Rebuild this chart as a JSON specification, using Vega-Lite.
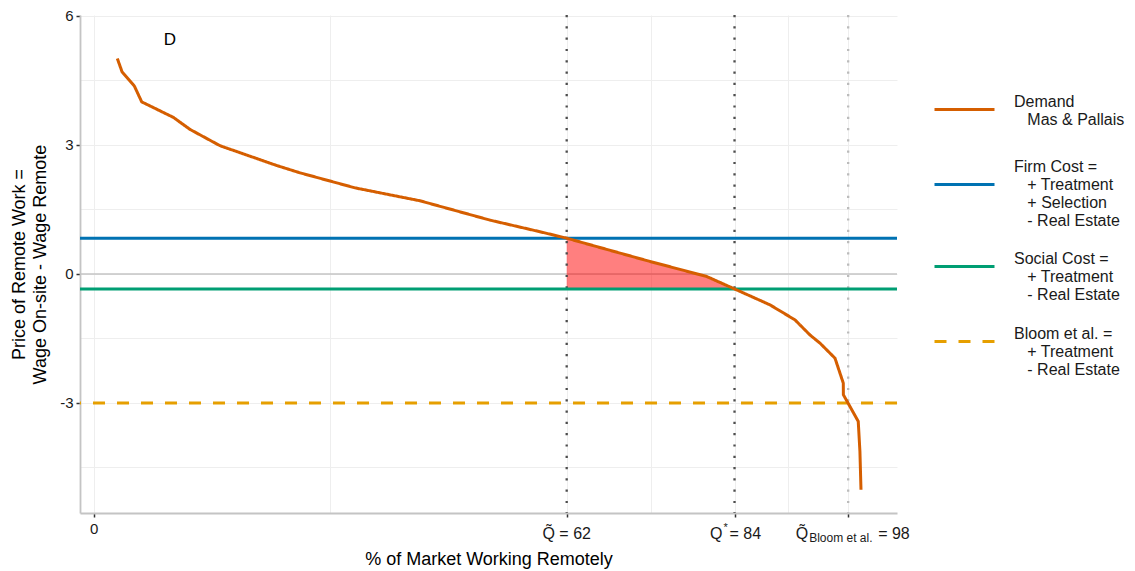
{
  "$schema": "https://vega.github.io/schema/vega-lite/v6.json",
  "width": 817,
  "height": 498,
  "autosize": {"type": "none"},
  "padding": {"left": 80, "top": 15, "right": 238, "bottom": 58},
  "background": "white",
  "config": {
    "font": "Liberation Sans",
    "view": {"stroke": null},
    "axis": {
      "domainColor": "#C4C4C4",
      "domainWidth": 1.8,
      "tickColor": "#333333",
      "tickWidth": 1.5,
      "tickSize": 4,
      "gridColor": "#EEEEEE",
      "gridWidth": 1,
      "labelFont": "Liberation Sans",
      "labelFontSize": 15,
      "labelColor": "#1A1A1A",
      "titleFont": "Liberation Sans",
      "titleFontSize": 18,
      "titleFontWeight": "normal",
      "titleColor": "#000000"
    }
  },
  "datasets": {
    "demand": [
      {"x": 3.09, "y": 5.01, "series": "Demand"},
      {"x": 3.71, "y": 4.70, "series": "Demand"},
      {"x": 5.32, "y": 4.37, "series": "Demand"},
      {"x": 6.29, "y": 4.00, "series": "Demand"},
      {"x": 10.43, "y": 3.64, "series": "Demand"},
      {"x": 12.62, "y": 3.36, "series": "Demand"},
      {"x": 16.56, "y": 2.98, "series": "Demand"},
      {"x": 23.99, "y": 2.52, "series": "Demand"},
      {"x": 27.04, "y": 2.35, "series": "Demand"},
      {"x": 34.26, "y": 2.00, "series": "Demand"},
      {"x": 42.77, "y": 1.70, "series": "Demand"},
      {"x": 51.95, "y": 1.25, "series": "Demand"},
      {"x": 58.5, "y": 0.98, "series": "Demand"},
      {"x": 62, "y": 0.83, "series": "Demand"},
      {"x": 72.9, "y": 0.29, "series": "Demand"},
      {"x": 80.35, "y": -0.06, "series": "Demand"},
      {"x": 84, "y": -0.35, "series": "Demand"},
      {"x": 88.65, "y": -0.72, "series": "Demand"},
      {"x": 91.93, "y": -1.07, "series": "Demand"},
      {"x": 93.89, "y": -1.42, "series": "Demand"},
      {"x": 95.2, "y": -1.61, "series": "Demand"},
      {"x": 97.17, "y": -1.96, "series": "Demand"},
      {"x": 98.26, "y": -2.54, "series": "Demand"},
      {"x": 98.27, "y": -2.81, "series": "Demand"},
      {"x": 100.22, "y": -3.43, "series": "Demand"},
      {"x": 100.44, "y": -4.13, "series": "Demand"},
      {"x": 100.58, "y": -5.02, "series": "Demand"}
    ],
    "area": [
      {"x": 62, "top": 0.83, "bottom": -0.35},
      {"x": 72.9, "top": 0.29, "bottom": -0.35},
      {"x": 80.35, "top": -0.06, "bottom": -0.35},
      {"x": 84, "top": -0.35, "bottom": -0.35}
    ],
    "hlines": [
      {"y": 0.83, "series": "Firm"},
      {"y": -0.35, "series": "Social"},
      {"y": -3.0, "series": "Bloom"}
    ],
    "zero": [{"y": 0}],
    "vlines": [
      {"x": 62, "name": "Q_tilde"},
      {"x": 84, "name": "Q_star"},
      {"x": 98.9, "name": "Q_bloom"}
    ],
    "panel": [{"x": 10, "y": 5.45, "label": "D"}],
    "xlabels": [
      {"x": 62, "piece": "full", "text": "Q\u0303 = 62"},
      {"x": 84, "piece": "q84", "text": "Q"},
      {"x": 84, "piece": "star84", "text": "*"},
      {"x": 84, "piece": "eq84", "text": "= 84"},
      {"x": 98.9, "piece": "q98", "text": "Q\u0303"},
      {"x": 98.9, "piece": "sub98", "text": "Bloom et al."},
      {"x": 98.9, "piece": "eq98", "text": "= 98"}
    ]
  },
  "layer": [
    {
      "data": {"name": "zero"},
      "mark": {"type": "rule", "color": "#C4C4C4", "strokeWidth": 1.5},
      "encoding": {
        "y": {
          "field": "y", "type": "quantitative",
          "scale": {"domain": [-5.56, 6.02], "nice": false, "zero": false},
          "axis": {
            "values": [-4.5, -3, -1.5, 0, 1.5, 3, 4.5, 6],
            "labelExpr": "datum.value % 3 == 0 ? '' + datum.value : ''",
            "tickOpacity": {"condition": {"test": "datum.value % 3 != 0", "value": 0}, "value": 1},
            "labelPadding": 3,
            "titlePadding": 10,
            "titleLineHeight": 21
          },
          "title": ["Price of Remote Work =", "Wage On-site - Wage Remote"]
        }
      }
    },
    {
      "data": {"name": "area"},
      "mark": {"type": "area", "color": "#FF0000", "opacity": 0.5},
      "encoding": {
        "x": {
          "field": "x", "type": "quantitative",
          "scale": {"domain": [-1.8, 105.3], "nice": false, "zero": false},
          "axis": {
            "values": [0, 31, 62, 73, 84, 91, 98.9],
            "labelExpr": "datum.value == 0 ? '0' : ''",
            "tickOpacity": {"condition": {"test": "datum.value == 31 || datum.value == 73 || datum.value == 91", "value": 0}, "value": 1},
            "labelPadding": 4,
            "titlePadding": 14
          },
          "title": "% of Market Working Remotely"
        },
        "y": {"field": "top", "type": "quantitative", "scale": {"domain": [-5.56, 6.02], "nice": false, "zero": false}},
        "y2": {"field": "bottom"}
      }
    },
    {
      "data": {"name": "vlines"},
      "mark": {"type": "rule", "strokeWidth": 2.3, "strokeDash": [2.2, 9.1]},
      "encoding": {
        "x": {"field": "x", "type": "quantitative", "scale": {"domain": [-1.8, 105.3], "nice": false, "zero": false}},
        "color": {"condition": {"test": "datum.x > 95", "value": "#BBBBBB"}, "value": "#4D4D4D"}
      }
    },
    {
      "data": {"name": "hlines"},
      "mark": {"type": "rule", "strokeWidth": 3},
      "encoding": {
        "y": {"field": "y", "type": "quantitative", "scale": {"domain": [-5.56, 6.02], "nice": false, "zero": false}},
        "color": {
          "field": "series", "type": "nominal",
          "scale": {"domain": ["Demand", "Firm", "Social", "Bloom"], "range": ["#D55E00", "#0072B2", "#009E73", "#E69F00"]},
          "legend": {
            "title": null, "orient": "none", "legendX": 853, "legendY": 63,
            "symbolType": "M-1,0H1M0,1.04", "symbolSize": 3600, "symbolStrokeWidth": 3, "symbolFillColor": "transparent",
            "labelFontSize": 16, "labelFont": "Liberation Sans", "labelColor": "#1A1A1A",
            "labelLimit": 300, "rowPadding": 6, "labelOffset": 18, "labelBaseline": "middle",
            "encode": {"labels": {"update": {"dy": {"signal": "datum.label == 'Firm' ? -18 : -8"}}}},
            "labelExpr": "datum.label == 'Demand' ? ['Demand', '\u200b\u00a0\u00a0\u00a0Mas & Pallais'] : datum.label == 'Firm' ? ['Firm Cost =', '\u200b\u00a0\u00a0\u00a0+ Treatment', '\u200b\u00a0\u00a0\u00a0+ Selection', '\u200b\u00a0\u00a0\u00a0- Real Estate'] : datum.label == 'Social' ? ['Social Cost =', '\u200b\u00a0\u00a0\u00a0+ Treatment', '\u200b\u00a0\u00a0\u00a0- Real Estate'] : ['Bloom et al. =', '\u200b\u00a0\u00a0\u00a0+ Treatment', '\u200b\u00a0\u00a0\u00a0- Real Estate']"
          }
        },
        "strokeDash": {
          "field": "series", "type": "nominal",
          "scale": {"domain": ["Demand", "Firm", "Social", "Bloom"], "range": [[1, 0], [1, 0], [1, 0], [12, 12]]},
          "legend": {
            "title": null, "orient": "none", "legendX": 853, "legendY": 63,
            "symbolType": "M-1,0H1M0,1.04", "symbolSize": 3600, "symbolStrokeWidth": 3, "symbolFillColor": "transparent",
            "labelFontSize": 16, "labelFont": "Liberation Sans", "labelColor": "#1A1A1A",
            "labelLimit": 300, "rowPadding": 6, "labelOffset": 18, "labelBaseline": "middle",
            "encode": {"labels": {"update": {"dy": {"signal": "datum.label == 'Firm' ? -18 : -8"}}}},
            "labelExpr": "datum.label == 'Demand' ? ['Demand', '\u200b\u00a0\u00a0\u00a0Mas & Pallais'] : datum.label == 'Firm' ? ['Firm Cost =', '\u200b\u00a0\u00a0\u00a0+ Treatment', '\u200b\u00a0\u00a0\u00a0+ Selection', '\u200b\u00a0\u00a0\u00a0- Real Estate'] : datum.label == 'Social' ? ['Social Cost =', '\u200b\u00a0\u00a0\u00a0+ Treatment', '\u200b\u00a0\u00a0\u00a0- Real Estate'] : ['Bloom et al. =', '\u200b\u00a0\u00a0\u00a0+ Treatment', '\u200b\u00a0\u00a0\u00a0- Real Estate']"
          }
        }
      }
    },
    {
      "data": {"name": "demand"},
      "mark": {"type": "line", "strokeWidth": 3},
      "encoding": {
        "x": {"field": "x", "type": "quantitative", "scale": {"domain": [-1.8, 105.3], "nice": false, "zero": false}},
        "y": {"field": "y", "type": "quantitative", "scale": {"domain": [-5.56, 6.02], "nice": false, "zero": false}},
        "color": {"field": "series", "type": "nominal"},
        "strokeDash": {"field": "series", "type": "nominal"}
      }
    },
    {
      "data": {"name": "panel"},
      "mark": {"type": "text", "fontSize": 17, "font": "Liberation Sans", "color": "#000000"},
      "encoding": {
        "x": {"field": "x", "type": "quantitative"},
        "y": {"field": "y", "type": "quantitative"},
        "text": {"field": "label"}
      }
    },
    {
      "data": {"name": "xlabels"},
      "transform": [{"filter": "datum.piece == 'full'"}],
      "mark": {"type": "text", "fontSize": 16, "align": "center", "baseline": "middle", "dy": 21, "color": "#1A1A1A"},
      "encoding": {"x": {"field": "x", "type": "quantitative"}, "y": {"datum": -5.56}, "text": {"field": "text"}}
    },
    {
      "data": {"name": "xlabels"},
      "transform": [{"filter": "datum.piece == 'q84'"}],
      "mark": {"type": "text", "fontSize": 16, "align": "right", "baseline": "middle", "dx": -12, "dy": 21, "color": "#1A1A1A"},
      "encoding": {"x": {"field": "x", "type": "quantitative"}, "y": {"datum": -5.56}, "text": {"field": "text"}}
    },
    {
      "data": {"name": "xlabels"},
      "transform": [{"filter": "datum.piece == 'q98'"}],
      "mark": {"type": "text", "fontSize": 16, "align": "right", "baseline": "middle", "dx": -40, "dy": 21, "color": "#1A1A1A"},
      "encoding": {"x": {"field": "x", "type": "quantitative"}, "y": {"datum": -5.56}, "text": {"field": "text"}}
    },
    {
      "data": {"name": "xlabels"},
      "transform": [{"filter": "datum.piece == 'star84'"}],
      "mark": {"type": "text", "fontSize": 11, "align": "left", "baseline": "middle", "dx": -11, "dy": 15, "color": "#1A1A1A"},
      "encoding": {"x": {"field": "x", "type": "quantitative"}, "y": {"datum": -5.56}, "text": {"field": "text"}}
    },
    {
      "data": {"name": "xlabels"},
      "transform": [{"filter": "datum.piece == 'eq84'"}],
      "mark": {"type": "text", "fontSize": 16, "align": "left", "baseline": "middle", "dx": -5, "dy": 21, "color": "#1A1A1A"},
      "encoding": {"x": {"field": "x", "type": "quantitative"}, "y": {"datum": -5.56}, "text": {"field": "text"}}
    },
    {
      "data": {"name": "xlabels"},
      "transform": [{"filter": "datum.piece == 'sub98'"}],
      "mark": {"type": "text", "fontSize": 12, "align": "left", "baseline": "middle", "dx": -39, "dy": 25, "color": "#1A1A1A"},
      "encoding": {"x": {"field": "x", "type": "quantitative"}, "y": {"datum": -5.56}, "text": {"field": "text"}}
    },
    {
      "data": {"name": "xlabels"},
      "transform": [{"filter": "datum.piece == 'eq98'"}],
      "mark": {"type": "text", "fontSize": 16, "align": "left", "baseline": "middle", "dx": 30, "dy": 21, "color": "#1A1A1A"},
      "encoding": {"x": {"field": "x", "type": "quantitative"}, "y": {"datum": -5.56}, "text": {"field": "text"}}
    }
  ]
}
